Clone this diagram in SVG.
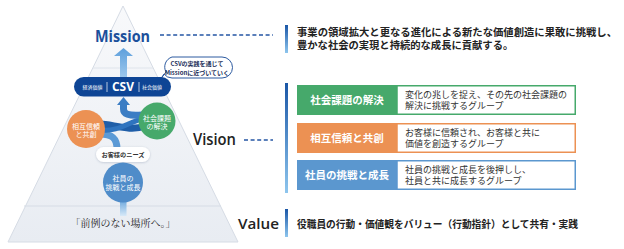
<svg xmlns="http://www.w3.org/2000/svg" width="624" height="249" viewBox="0 0 624 249">
<defs>
<linearGradient id="pyr" x1="0" y1="0" x2="0" y2="1">
<stop offset="0" stop-color="#f8f9fb"/><stop offset="1" stop-color="#e8ecf2"/>
</linearGradient>
<linearGradient id="bar" x1="0" y1="0" x2="0" y2="1">
<stop offset="0" stop-color="#1a56a6"/><stop offset="1" stop-color="#8ec6ee"/>
</linearGradient>
<linearGradient id="upArrow" x1="0" y1="0" x2="0" y2="1">
<stop offset="0" stop-color="#5d9fdc"/><stop offset="1" stop-color="#9cc7ec"/>
</linearGradient>
<linearGradient id="stem" x1="0" y1="0" x2="0" y2="1">
<stop offset="0" stop-color="#6aa6dc"/><stop offset="1" stop-color="#d7e9f8"/>
</linearGradient>
<filter id="sh" x="-20%" y="-30%" width="140%" height="160%">
<feDropShadow dx="0" dy="0.6" stdDeviation="0.8" flood-color="#8090a8" flood-opacity="0.45"/>
</filter>
</defs>
<style>
.jp{font-family:"Noto Sans CJK JP","Noto Sans",sans-serif}
.en{font-family:"Open Sans","Liberation Sans",sans-serif}
.w{fill:#fff}
.dash{stroke:#2456a4;stroke-width:1.3;stroke-dasharray:4 2.6;fill:none}
.lead{font-size:10.3px;font-weight:700;fill:#222}
.desc{font-size:9px;fill:#333}
.lbl{font-size:10.5px;font-weight:700;fill:#fff}
.ct{font-size:7px;fill:#fff}
</style>

<g id="pyramid">
<polygon points="123,6 8,242 238,242" fill="url(#pyr)" stroke="#d6dce5" stroke-width="1"/>
<line x1="93" y1="68" x2="153" y2="68" stroke="#dfe4eb" stroke-width="1"/>
<line x1="24" y1="206" x2="221" y2="206" stroke="#d6dce5" stroke-width="1"/>
</g>

<g id="connectors">
<line class="dash" x1="160" y1="35" x2="273" y2="35"/>
<line class="dash" x1="244" y1="140" x2="273" y2="140"/>
<polygon points="120,77 120,56 114,56 123.5,48 133,56 127,56 127,77" fill="url(#upArrow)"/>
<rect x="120" y="200" width="6.5" height="16" fill="url(#stem)"/>
<path d="M123,162 L123,150" stroke="#7fb2e0" stroke-width="6" fill="none"/>
<path d="M117,149 C117,138 112,134 100,134" stroke="#5b9ad6" stroke-width="7" fill="none"/>
<path d="M100,124 C112,124 130,132 145,126" stroke="#1f5ea8" stroke-width="7" fill="none"/>
<path d="M102,130 C118,132 128,122 145,118" stroke="#2f74bf" stroke-width="5" fill="none"/>
<path d="M123.5,104 L123.5,109 C123.5,114 128,116 142,115" stroke="#3b7dc4" stroke-width="7" fill="none"/>
<polygon points="117,105 123.5,97 130,105" fill="#3b7dc4"/>
</g>

<g id="mission">
<text class="en" x="122.5" y="42" font-size="16.5" font-weight="700" fill="#1b4f9b" text-anchor="middle" textLength="55" lengthAdjust="spacingAndGlyphs">Mission</text>
</g>

<g id="callout">
<path d="M172,57 H222 A10.5,10.5 0 0 1 222,78 H172 A10.5,10.5 0 0 1 164,74 L160,80 L166,72 A10.5,10.5 0 0 1 172,57 Z" fill="#fff" stroke="#2c5aa0" stroke-width="1"/>
<text class="jp" x="197" y="66" font-size="6" font-weight="700" fill="#1c2f5a" text-anchor="middle">CSVの実践を通じて</text>
<text class="jp" x="197" y="74.5" font-size="6" font-weight="700" fill="#1c2f5a" text-anchor="middle">Missionに近づいていく</text>
</g>

<g id="csv">
<rect x="74" y="77" width="97" height="19.5" rx="9.75" fill="#0e4595"/>
<line x1="107" y1="82" x2="107" y2="92" stroke="#fff" stroke-width="0.7"/>
<line x1="139" y1="82" x2="139" y2="92" stroke="#fff" stroke-width="0.7"/>
<text class="jp w" x="92.5" y="88.8" font-size="5" text-anchor="middle">経済価値</text>
<text class="jp w" x="152" y="88.8" font-size="5" text-anchor="middle">社会価値</text>
<text class="en w" x="123" y="91" font-size="12.5" font-weight="700" text-anchor="middle" textLength="22" lengthAdjust="spacingAndGlyphs">CSV</text>
</g>

<g id="circle-social">
<circle cx="157" cy="121" r="18.5" fill="#46a96b"/>
<text class="jp ct" x="157" y="120.5" text-anchor="middle">社会課題</text>
<text class="jp ct" x="157" y="129" text-anchor="middle">の解決</text>
</g>

<g id="circle-trust">
<circle cx="86" cy="129" r="19" fill="#ec9153"/>
<text class="jp ct" x="86" y="128.5" text-anchor="middle">相互信頼</text>
<text class="jp ct" x="86" y="137" text-anchor="middle">と共創</text>
</g>

<g id="needs">
<rect x="96" y="147" width="54" height="15" rx="7.5" fill="#fff" filter="url(#sh)"/>
<text class="jp" x="123" y="157" font-size="6.2" font-weight="700" fill="#333" text-anchor="middle">お客様のニーズ</text>
</g>

<g id="circle-employee">
<circle cx="123" cy="182.5" r="20" fill="#4f8cc9"/>
<text class="jp ct" x="123" y="181" text-anchor="middle">社員の</text>
<text class="jp ct" x="123" y="190" text-anchor="middle">挑戦と成長</text>
</g>

<g id="motto">
<text x="123" y="227" font-family="'Noto Serif CJK JP','Noto Sans CJK JP',serif" font-size="10" fill="#222" text-anchor="middle">「前例のない場所へ。」</text>
</g>

<g id="mission-text">
<rect x="285" y="25" width="3" height="28" fill="url(#bar)"/>
<text class="jp lead" x="297" y="36" textLength="320" lengthAdjust="spacingAndGlyphs">事業の領域拡大と更なる進化による新たな価値創造に果敢に挑戦し、</text>
<text class="jp lead" x="297" y="49">豊かな社会の実現と持続的な成長に貢献する。</text>
</g>

<g id="vision">
<text class="en" x="214.5" y="145" font-size="15.5" font-weight="600" fill="#222" text-anchor="middle" textLength="43" lengthAdjust="spacingAndGlyphs">Vision</text>
<rect x="285" y="83" width="3" height="110" fill="url(#bar)"/>
</g>

<g id="vision-1">
<rect x="297" y="85" width="100" height="30" fill="#46a96b"/>
<rect x="397" y="85.75" width="178.25" height="28.5" fill="#fff" stroke="#46a96b" stroke-width="1.5"/>
<text class="jp lbl" x="347" y="104" text-anchor="middle">社会課題の解決</text>
<text class="jp desc" x="405" y="98">変化の兆しを捉え、その先の社会課題の</text>
<text class="jp desc" x="405" y="109">解決に挑戦するグループ</text>
</g>

<g id="vision-2">
<rect x="297" y="123" width="100" height="30" fill="#ec9153"/>
<rect x="397" y="123.75" width="178.25" height="28.5" fill="#fff" stroke="#ec9153" stroke-width="1.5"/>
<text class="jp lbl" x="347" y="142" text-anchor="middle">相互信頼と共創</text>
<text class="jp desc" x="405" y="136">お客様に信頼され、お客様と共に</text>
<text class="jp desc" x="405" y="147">価値を創造するグループ</text>
</g>

<g id="vision-3">
<rect x="297" y="160" width="100" height="30" fill="#5b97cf"/>
<rect x="397" y="160.75" width="178.25" height="28.5" fill="#fff" stroke="#5b97cf" stroke-width="1.5"/>
<text class="jp lbl" x="347" y="179" text-anchor="middle">社員の挑戦と成長</text>
<text class="jp desc" x="405" y="173">社員の挑戦と成長を後押しし、</text>
<text class="jp desc" x="405" y="184">社員と共に成長するグループ</text>
</g>

<g id="value">
<text class="en" x="258.5" y="229" font-size="15" font-weight="600" fill="#222" text-anchor="middle" textLength="41" lengthAdjust="spacingAndGlyphs">Value</text>
<rect x="285" y="209" width="3" height="28" fill="url(#bar)"/>
<text class="jp lead" x="297" y="228" font-size="10" textLength="281" lengthAdjust="spacingAndGlyphs">役職員の行動・価値観をバリュー（行動指針）として共有・実践</text>
</g>
</svg>
